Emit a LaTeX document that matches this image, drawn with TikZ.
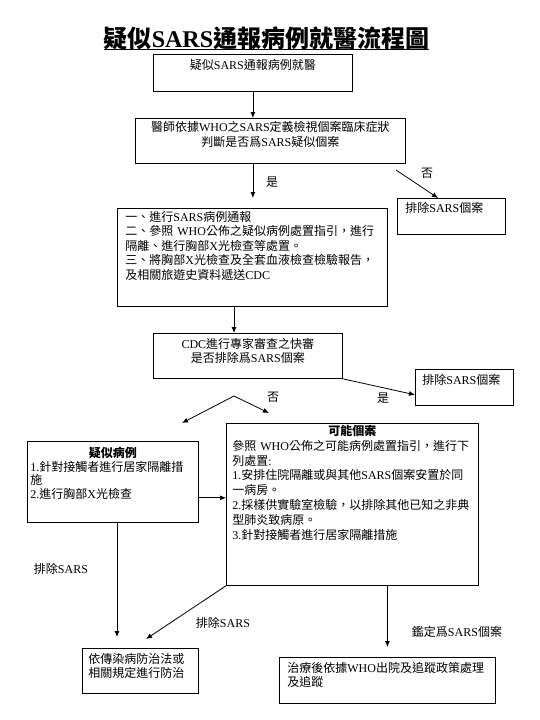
\documentclass[tikz,border=0pt]{standalone}
\usepackage{fontspec}
\setmainfont{Liberation Serif}
\newfontfamily\cjkfam{Noto Sans CJK TC}
\usetikzlibrary{arrows.meta}

\XeTeXinterchartokenstate=1
\newXeTeXintercharclass\cjkcls
\newcount\cjkcount
\cjkcount="3000
\loop
  \XeTeXcharclass\cjkcount=\cjkcls
  \ifnum\cjkcount<"9FFF \advance\cjkcount by 1
\repeat
\cjkcount="FF00
\loop
  \XeTeXcharclass\cjkcount=\cjkcls
  \ifnum\cjkcount<"FFEF \advance\cjkcount by 1
\repeat
\XeTeXinterchartoks 0 \cjkcls = {\cjkfam}
\XeTeXinterchartoks 4095 \cjkcls = {\cjkfam}
\XeTeXinterchartoks \cjkcls 0 = {\rmfamily}
\XeTeXinterchartoks \cjkcls 4095 = {\rmfamily}

\newcommand\flowfont{\fontsize{12pt}{14.5pt}\selectfont}
\tikzset{
  box/.style={draw, line width=.8pt, anchor=north west, inner ysep=0pt, font=\flowfont},
  arr/.style={line width=.8pt, -{Latex[length=6pt,width=5pt]}},
  lab/.style={inner sep=0pt, font=\flowfont}
}

\begin{document}
\begin{tikzpicture}[x=1pt,y=-1pt]
\useasboundingbox (0,0) rectangle (540,720);
\node[inner sep=0pt, anchor=base, font=\fontsize{24pt}{28pt}\selectfont\bfseries] (title) at (266.5,47) {疑似SARS通報病例就醫流程圖};
\draw[line width=1pt] ([yshift=-2pt]title.base west) -- ([yshift=-2pt]title.base east);

\node[box, inner xsep=8pt, text width=183pt, text height=15pt, text depth=22pt, align=center] (sick) at (153,54) {疑似SARS通報病例就醫};
\node[box, inner xsep=8pt, text width=254pt, text height=13pt, text depth=32pt, align=center] (doc) at (135,118) {醫師依據WHO之SARS定義檢視個案臨床症狀\\[1pt]判斷是否爲SARS疑似個案};
\node[box, inner xsep=8pt, text width=254pt, text height=13pt, text depth=85pt, align=left] (report) at (117,208) {一、進行SARS病例通報\\
二、參照 WHO公佈之疑似病例處置指引，進行\\
隔離、進行胸部X光檢查等處置。\\
三、將胸部X光檢查及全套血液檢查檢驗報告，\\
及相關旅遊史資料遞送CDC};
\node[box, inner xsep=8pt, text width=92pt, text height=14pt, text depth=22pt, align=left] (excl1) at (397,198) {排除SARS個案};
\node[box, inner xsep=8pt, text width=173pt, text height=15pt, text depth=30pt, align=center] (cdc) at (153,333) {CDC進行專家審查之快審\\是否排除爲SARS個案};
\node[box, inner xsep=7pt, text width=84pt, text height=15pt, text depth=21pt, align=left] (excl2) at (415,369) {排除SARS個案};
\node[box, inner xsep=3pt, text width=165pt, text height=16pt, text depth=65pt, align=left, font=\fontsize{12pt}{13.7pt}\selectfont] (susp) at (27,441) {\makebox[165pt]{\bfseries 疑似病例}\\
1.針對接觸者進行居家隔離措\\
施\\
2.進行胸部X光檢查};
\node[box, inner xsep=6pt, text width=240pt, text height=12pt, text depth=150pt, align=left, font=\fontsize{12pt}{14.8pt}\selectfont] (prob) at (226,423) {\makebox[240pt]{\bfseries 可能個案}\\
參照 WHO公佈之可能病例處置指引，進行下\\
列處置:\\
1.安排住院隔離或與其他SARS個案安置於同\\
一病房。\\
2.採樣供實驗室檢驗，以排除其他已知之非典\\
型肺炎致病原。\\
3.針對接觸者進行居家隔離措施};
\node[box, inner xsep=6pt, text width=104pt, text height=15pt, text depth=30pt, align=left] (law) at (82,648) {依傳染病防治法或\\相關規定進行防治};
\node[box, inner xsep=8pt, text width=200pt, text height=15pt, text depth=31pt, align=left] (treat) at (279,657) {治療後依據WHO出院及追蹤政策處理\\及追蹤};

\coordinate (noStart) at (396,170);
\coordinate (r1) at ([xshift=117pt]report.south west);
\coordinate (apex) at (234,396);
\coordinate (tipS) at (182,423);
\coordinate (tipP) at (269,413);
\coordinate (s1) at ([yshift=25pt]susp.south east);
\coordinate (s2) at ([xshift=90pt]susp.south west);

\draw[arr] (sick.south) -- (sick.south |- doc.north);
\draw[arr, shorten >=10pt] (sick.south |- doc.south) -- (sick.south |- report.north);
\draw[arr] (noStart) -- ([xshift=41pt]excl1.north west);
\draw[arr] (r1) -- (r1 |- cdc.north);
\draw[arr] (cdc.south east) -- ([yshift=11pt]excl2.south west);
\draw[arr] (apex) -- (tipS);
\draw[arr] (apex) -- (tipP);
\draw[arr] (s1) -- (s1 -| prob.west);
\draw[arr, shorten >=11pt] (s2) -- (s2 |- law.north);
\draw[arr] (prob.south west) -- ([xshift=64pt,yshift=9pt]law.north west);
\draw[arr, shorten >=10pt] (treat.north |- prob.south) -- (treat.north);

\node[lab] (yes1) at (272,182) {是};
\node[lab] (no1) at (427,173) {否};
\node[lab] (no2) at (273,397) {否};
\node[lab] (yes2) at (383,398) {是};
\node[lab] (exA) at (61,569) {排除SARS};
\node[lab] (exB) at (223,623) {排除SARS};
\node[lab] (conf) at (457,632) {鑑定爲SARS個案};
\end{tikzpicture}
\end{document}
